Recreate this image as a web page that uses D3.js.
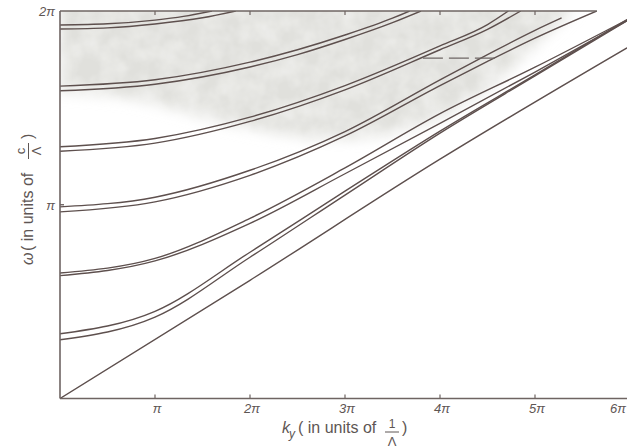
<!DOCTYPE html>
<html>
<script src="https://cdn.jsdelivr.net/npm/d3@7"></script>
<style>
  body, html { margin: 0; padding: 0; background: #fff; }
  svg { display: block; }
  text { font-family: "Liberation Sans", Arial, sans-serif; fill: #5e5654; }
</style>
<body>
<svg width="627" height="448"></svg>
<script>
  // omega and k_y both in units of pi
  var xTicks = [1, 2, 3, 4, 5, 6];
  var xTickLabels = ['π', '2π', '3π', '4π', '5π', '6π'];
  var yTicks = [1, 2];
  var yTickLabels = ['π', '2π'];

  var lightLine = [[0, 0], [2, 0.61], [4, 1.235], [5.97, 1.81]];

  var band1Lower = [[0, 0.303], [1, 0.42], [2, 0.729], [3, 1.05], [4, 1.37], [5, 1.665], [5.97, 1.95]];
  var band1Upper = [[0, 0.334], [1, 0.45], [2, 0.755], [3, 1.07], [4, 1.38], [5, 1.67], [5.97, 1.955]];
  var band2Lower = [[0, 0.634], [1, 0.71], [2, 0.904], [3, 1.16], [4, 1.42], [5, 1.685], [5.97, 1.95]];
  var band2Upper = [[0, 0.648], [1, 0.723], [2, 0.93], [3, 1.19], [4, 1.47], [5, 1.71], [5.97, 1.955]];
  var band3Lower = [[0, 0.963], [1, 1.015], [2, 1.152], [3, 1.355], [4, 1.615], [4.5, 1.74], [5, 1.86], [5.65, 2.0]];
  var band3Upper = [[0, 0.989], [1, 1.039], [2, 1.178], [3, 1.378], [4, 1.645], [4.5, 1.775], [5, 1.90], [5.28, 1.964]];
  var band4Lower = [[0, 1.276], [1, 1.318], [2, 1.43], [3, 1.593], [4, 1.80], [4.5, 1.905], [4.85, 2.0]];
  var band4Upper = [[0, 1.299], [1, 1.342], [2, 1.452], [3, 1.615], [4, 1.82], [4.5, 1.93], [4.72, 2.0]];
  var band5Lower = [[0, 1.588], [1, 1.622], [2, 1.711], [2.5, 1.775], [3, 1.853], [3.5, 1.94], [3.8, 2.0]];
  var band5Upper = [[0, 1.612], [1, 1.645], [2, 1.736], [2.5, 1.80], [3, 1.876], [3.5, 1.963], [3.68, 2.0]];
  var band6Lower = [[0, 1.907], [0.5, 1.913], [1, 1.933], [1.5, 1.965], [1.85, 2.0]];
  var band6Upper = [[0, 1.928], [0.5, 1.934], [1, 1.953], [1.3, 1.972], [1.6, 2.0]];

  // stray dashed mark near 4 pi
  var dashMark = [[3.82, 1.757], [4.63, 1.757]];

  // lower edge of the grey patch on the paper
  var shadeEdge = [[0, 1.585], [0.8, 1.56], [1.5, 1.45], [2.3, 1.36], [3, 1.33], [3.7, 1.38],
                   [4.3, 1.52], [4.8, 1.72], [5.2, 1.92], [5.4, 2.0]];

  var curves = [lightLine, band1Lower, band1Upper, band2Lower, band2Upper, band3Lower, band3Upper,
                band4Lower, band4Upper, band5Lower, band5Upper, band6Lower, band6Upper];

  var svg = d3.select('svg');
  var x = d3.scaleLinear().domain([0, 6]).range([60, 630]);
  var y = d3.scaleLinear().domain([0, 2]).range([398.5, 11]);

  var defs = svg.append('defs');
  defs.append('clipPath').attr('id', 'plot')
    .append('rect').attr('x', x(0)).attr('y', y(2)).attr('width', x(6) - x(0)).attr('height', y(0) - y(2));

  // blurred, lightly mottled grey like the paper tone
  var f = defs.append('filter').attr('id', 'mottle')
    .attr('x', '-10%').attr('y', '-10%').attr('width', '120%').attr('height', '120%');
  f.append('feGaussianBlur').attr('in', 'SourceGraphic').attr('stdDeviation', 7).attr('result', 'blur');
  f.append('feTurbulence').attr('type', 'fractalNoise').attr('baseFrequency', 0.05)
    .attr('numOctaves', 3).attr('seed', 4).attr('result', 'noise');
  f.append('feColorMatrix').attr('in', 'noise').attr('type', 'matrix')
    .attr('values', '0 0 0 0 0  0 0 0 0 0  0 0 0 0 0  0.7 0 0 0 0.5').attr('result', 'mask');
  f.append('feComposite').attr('in', 'blur').attr('in2', 'mask').attr('operator', 'in');

  var plot = svg.append('g').attr('clip-path', 'url(#plot)');

  var shadeArea = d3.area()
    .x(function (d) { return x(d[0]); })
    .y0(y(2.05))
    .y1(function (d) { return y(d[1]); })
    .curve(d3.curveBasis);
  plot.append('path')
    .datum(shadeEdge)
    .attr('d', shadeArea)
    .attr('fill', '#e0e0dc')
    .attr('filter', 'url(#mottle)');

  var line = d3.line()
    .x(function (d) { return x(d[0]); })
    .y(function (d) { return y(d[1]); })
    .curve(d3.curveMonotoneX);

  plot.selectAll('path.band')
    .data(curves)
    .enter()
    .append('path')
      .attr('class', 'band')
      .attr('d', line)
      .attr('fill', 'none')
      .attr('stroke', '#5e504e')
      .attr('stroke-width', 1.4);

  plot.append('path')
    .datum(dashMark)
    .attr('d', line)
    .attr('fill', 'none')
    .attr('stroke', '#6e6664')
    .attr('stroke-width', 1.2)
    .attr('stroke-dasharray', '20,6');

  // frame
  var axisColor = '#6e6462';
  svg.append('line').attr('x1', x(0)).attr('x2', x(0)).attr('y1', y(2)).attr('y2', y(0))
    .attr('stroke', axisColor).attr('stroke-width', 1.6);
  svg.append('line').attr('x1', x(0)).attr('x2', 627).attr('y1', y(0)).attr('y2', y(0))
    .attr('stroke', axisColor).attr('stroke-width', 1.6);
  svg.append('line').attr('x1', x(0)).attr('x2', 597).attr('y1', y(2)).attr('y2', y(2))
    .attr('stroke', axisColor).attr('stroke-width', 1.4);

  // ticks
  svg.selectAll('line.xtick')
    .data(xTicks.slice(0, 5))
    .enter().append('line')
      .attr('x1', function (d) { return x(d); }).attr('x2', function (d) { return x(d); })
      .attr('y1', y(0)).attr('y2', y(0) - 4)
      .attr('stroke', axisColor).attr('stroke-width', 1.2);
  svg.selectAll('line.xtopTick')
    .data(xTicks.slice(0, 5))
    .enter().append('line')
      .attr('x1', function (d) { return x(d); }).attr('x2', function (d) { return x(d); })
      .attr('y1', y(2)).attr('y2', y(2) + 4)
      .attr('stroke', axisColor).attr('stroke-width', 1.2);
  svg.append('line').attr('x1', x(0)).attr('x2', x(0) + 4).attr('y1', y(1)).attr('y2', y(1))
    .attr('stroke', axisColor).attr('stroke-width', 1.4);

  svg.selectAll('text.xlab')
    .data(xTicks)
    .enter().append('text')
      .attr('x', function (d) { return d === 6 ? 626 : x(d) + 2; })
      .attr('y', y(0) + 14)
      .attr('text-anchor', function (d) { return d === 6 ? 'end' : 'middle'; })
      .style('font-size', '13px')
      .style('font-style', 'italic')
      .text(function (d, i) { return xTickLabels[i]; });

  svg.selectAll('text.ylab')
    .data(yTicks)
    .enter().append('text')
      .attr('x', x(0) - 5)
      .attr('y', function (d) { return y(d) + 5; })
      .attr('text-anchor', 'end')
      .style('font-size', '13px')
      .style('font-style', 'italic')
      .text(function (d, i) { return yTickLabels[i]; });

  // x title
  var xt = svg.append('g');
  xt.append('text').attr('x', 282).attr('y', 433).style('font-size', '16px').style('font-style', 'italic').text('k');
  xt.append('text').attr('x', 289).attr('y', 438).style('font-size', '12px').style('font-style', 'italic').text('y');
  xt.append('text').attr('x', 298).attr('y', 433).style('font-size', '16px').text('( in units of');
  xt.append('text').attr('x', 392).attr('y', 428).attr('text-anchor', 'middle').style('font-size', '12px').text('1');
  xt.append('line').attr('x1', 385).attr('x2', 399).attr('y1', 432).attr('y2', 432).attr('stroke', '#5e5654').attr('stroke-width', 1);
  xt.append('text').attr('x', 392).attr('y', 446).attr('text-anchor', 'middle').style('font-size', '13px').text('Λ');
  xt.append('text').attr('x', 402).attr('y', 433).style('font-size', '16px').text(')');

  // y title (rotated)
  var yt = svg.append('g').attr('transform', 'translate(33,0) rotate(-90)');
  yt.append('text').attr('x', -265).attr('y', 0).style('font-size', '16px').style('font-style', 'italic').text('ω');
  yt.append('text').attr('x', -251).attr('y', 0).style('font-size', '16px').text('( in units of');
  yt.append('text').attr('x', -151).attr('y', -8).attr('text-anchor', 'middle').style('font-size', '13px').text('c');
  yt.append('line').attr('x1', -159).attr('x2', -143).attr('y1', -4.5).attr('y2', -4.5).attr('stroke', '#5e5654').attr('stroke-width', 1);
  yt.append('text').attr('x', -151).attr('y', 8).attr('text-anchor', 'middle').style('font-size', '13px').text('Λ');
  yt.append('text').attr('x', -139).attr('y', 0).style('font-size', '16px').text(')');
</script>
</body>
</html>
